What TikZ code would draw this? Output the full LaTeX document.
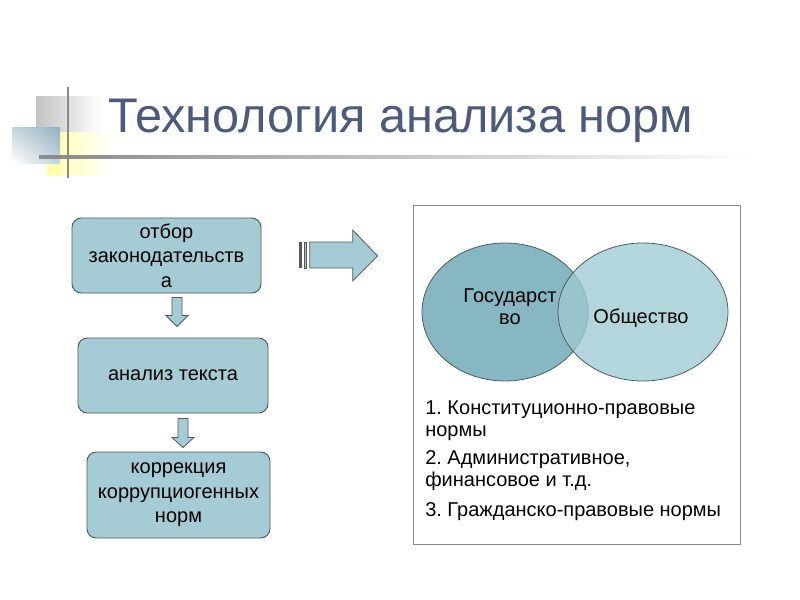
\documentclass[tikz,border=0pt]{standalone}
\usepackage{fontspec}
\setmainfont{Liberation Sans}
\usepackage{tikz}
\usetikzlibrary{positioning,shadings}
\definecolor{titulo}{HTML}{4E5A7A}
\definecolor{caja}{HTML}{A5CCD4}
\definecolor{rama}{HTML}{4F5C5E}
\definecolor{estado}{HTML}{87B7C2}
\definecolor{socio}{HTML}{9ECAD2}
\definecolor{gris}{HTML}{8A8A8A}
\definecolor{azulgris}{HTML}{94B0C0}
\frenchspacing

\begin{document}
\begin{tikzpicture}[
  x=0.75pt, y=-0.75pt,
  font=\fontsize{15}{18.5}\selectfont,
  box/.style={rectangle, rounded corners=7pt, draw=rama, line width=0.7pt, fill=caja, inner sep=0pt, align=center},
  blk/.style={draw=rama, line width=0.6pt, fill=caja, line join=miter},
  venn/.style={draw=rama, line width=0.6pt},
  lista/.style={anchor=west, align=left, inner sep=0pt, font=\fontsize{15}{16.5}\selectfont}
]
\useasboundingbox (0,0) rectangle (800,600);
% title decoration
\shade[left color=black!24, right color=white] (36,96) rectangle (102,132);
\shade[left color=yellow!35!white, right color=white] (47,132) rectangle (112,175);
\shade[upper right=azulgris, upper left=azulgris!55, lower right=azulgris!55, lower left=white] (12,127) rectangle (60,163);
\shade[left color=gris, middle color=gris!70, right color=white] (39,155.8) rectangle (757,158.2);
\draw[gris, line width=1.5pt] (68,87) -- (68,178);
\node[anchor=base west, inner sep=0pt, text=titulo, font=\fontsize{36.5}{40}\selectfont] (tit) at (108,132) {Технология анализа норм};

% left chain
\node[box, minimum width=141.75pt, minimum height=56.25pt] (sel) at (166.5,255.5) {отбор\\законодательств\\а};
\node[box, minimum width=142.5pt, minimum height=56.25pt] (ana) at (173,375.5) {анализ текста};
\node[box, minimum width=137.25pt, minimum height=64.5pt] (cor) at (178.5,495) {коррекция\\коррупциогенных\\норм};
\draw[blk] ([shift={(5.5,4)}]sel.south) -- ++(10,0) -- ++(0,18) -- ++(6,0) -- ++(-11,11) -- ++(-11,-11) -- ++(6,0) -- cycle;
\draw[blk] ([shift={(5,5)}]ana.south) -- ++(10,0) -- ++(0,19) -- ++(6,0) -- ++(-11,10) -- ++(-11,-10) -- ++(6,0) -- cycle;

% big arrow
\coordinate (big) at (299,242);
\fill[rama] (big) rectangle ++(3,26);
\draw[blk, fill=gris!60] ([xshift=4]big) rectangle ++(2.5,26);
\draw[blk] ([xshift=8]big) -- ++(43,0) -- ++(0,-12) -- ++(25,26) -- ++(-25,25) -- ++(0,-13) -- ++(-43,0) -- cycle;

% venn panel
\draw[gris, line width=0.7pt] (413,205) rectangle (740,544);
\fill[estado] (505,312) ellipse [x radius=83, y radius=69];
\draw[venn] (505,312) ellipse [x radius=83, y radius=69];
\fill[socio, fill opacity=0.78] (643,312) ellipse [x radius=85, y radius=69];
\draw[venn] (643,312) ellipse [x radius=85, y radius=69];
\node[align=center, inner sep=0pt, font=\fontsize{15}{16.5}\selectfont] (gos) at (510,307) {Государст\\во};
\node[inner sep=0pt, font=\fontsize{15}{16.5}\selectfont] (obs) at (641,318) {Общество};

\node[lista] (l1) at (425,421) {1. Конституционно-правовые\\нормы};
\node[lista] (l2) at (425,471) {2. Административное,\\финансовое и т.д.};
\node[lista] (l3) at (425,512) {3. Гражданско-правовые нормы};
\end{tikzpicture}
\end{document}
